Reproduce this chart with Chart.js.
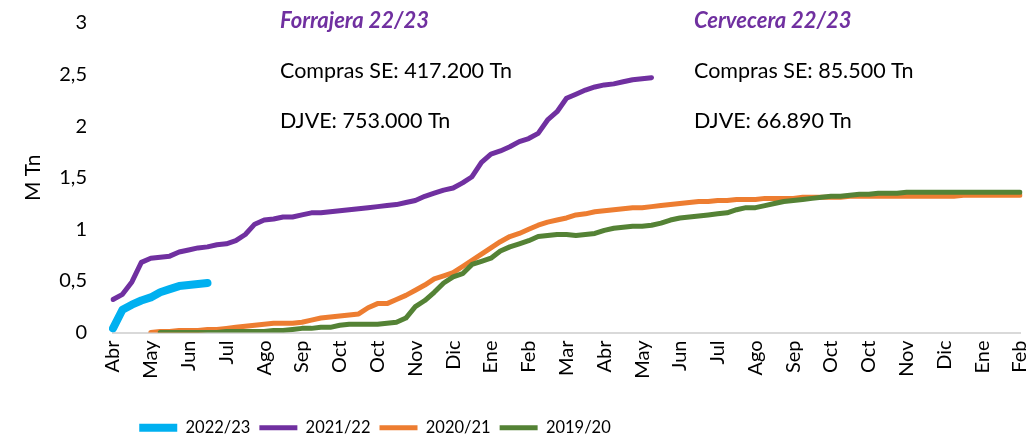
<!DOCTYPE html>
<html>
<head>
<meta charset="utf-8">
<script src="https://cdn.jsdelivr.net/npm/chart.js@4.4.1/dist/chart.umd.min.js"></script>
<style>
  html, body { margin: 0; padding: 0; background: #fff; }
  #wrap { width: 1035px; height: 439px; position: relative; }
</style>
</head>
<body>
<div id="wrap"><canvas id="compras-chart"></canvas></div>
<script>
// Month tick labels, one every 4 weeks
const tickLabels = ['Abr', 'May', 'Jun', 'Jul', 'Ago', 'Sep', 'Oct', 'Oct', 'Nov', 'Dic', 'Ene', 'Feb', 'Mar',
  'Abr', 'May', 'Jun', 'Jul', 'Ago', 'Sep', 'Oct', 'Oct', 'Nov', 'Dic', 'Ene', 'Feb'];
const weeksPerTick = 4;

const seriesNames = ['2022/23', '2021/22', '2020/21', '2019/20'];
const seriesColors = ['#00B0F0', '#7030A0', '#ED7D31', '#548235'];
const seriesStart = [0, 0, 4, 5]; // first week with data

// Accumulated purchases, M Tn, weekly
const campaign2022 = [0.04, 0.22, 0.27, 0.31, 0.34, 0.39, 0.42, 0.45, 0.46, 0.47, 0.48];

const campaign2021 = [0.32, 0.37, 0.49, 0.68, 0.72, 0.73, 0.74, 0.78, 0.80, 0.82,
  0.83, 0.85, 0.86, 0.89, 0.95, 1.05, 1.09, 1.10, 1.12, 1.12,
  1.14, 1.16, 1.16, 1.17, 1.18, 1.19, 1.20, 1.21, 1.22, 1.23,
  1.24, 1.26, 1.28, 1.32, 1.35, 1.38, 1.40, 1.45, 1.51, 1.65,
  1.73, 1.76, 1.80, 1.85, 1.88, 1.93, 2.06, 2.14, 2.27, 2.31,
  2.35, 2.38, 2.40, 2.41, 2.43, 2.45, 2.46, 2.47];

const campaign2020 = [0.00, 0.01, 0.01, 0.02, 0.02, 0.02, 0.03, 0.03, 0.04, 0.05,
  0.06, 0.07, 0.08, 0.09, 0.09, 0.09, 0.10, 0.12, 0.14, 0.15,
  0.16, 0.17, 0.18, 0.24, 0.28, 0.28, 0.32, 0.36, 0.41, 0.46,
  0.52, 0.55, 0.58, 0.64, 0.70, 0.76, 0.82, 0.88, 0.93, 0.96,
  1.00, 1.04, 1.07, 1.09, 1.11, 1.14, 1.15, 1.17, 1.18, 1.19,
  1.20, 1.21, 1.21, 1.22, 1.23, 1.24, 1.25, 1.26, 1.27, 1.27,
  1.28, 1.28, 1.29, 1.29, 1.29, 1.30, 1.30, 1.30, 1.30, 1.31,
  1.31, 1.31, 1.31, 1.31, 1.32, 1.32, 1.32, 1.32, 1.32, 1.32,
  1.32, 1.32, 1.32, 1.32, 1.32, 1.32, 1.33, 1.33, 1.33, 1.33,
  1.33, 1.33, 1.33];

const campaign2019 = [0.00, 0.00, 0.00, 0.00, 0.00, 0.00, 0.00, 0.01, 0.01, 0.01,
  0.01, 0.01, 0.02, 0.02, 0.03, 0.04, 0.04, 0.05, 0.05, 0.07,
  0.08, 0.08, 0.08, 0.08, 0.09, 0.10, 0.14, 0.25, 0.31, 0.39,
  0.48, 0.54, 0.57, 0.66, 0.69, 0.72, 0.79, 0.83, 0.86, 0.89,
  0.93, 0.94, 0.95, 0.95, 0.94, 0.95, 0.96, 0.99, 1.01, 1.02,
  1.03, 1.03, 1.04, 1.06, 1.09, 1.11, 1.12, 1.13, 1.14, 1.15,
  1.16, 1.19, 1.21, 1.21, 1.23, 1.25, 1.27, 1.28, 1.29, 1.30,
  1.31, 1.32, 1.32, 1.33, 1.34, 1.34, 1.35, 1.35, 1.35, 1.36,
  1.36, 1.36, 1.36, 1.36, 1.36, 1.36, 1.36, 1.36, 1.36, 1.36,
  1.36, 1.36];

// Text boxes drawn on the chart
const notes = [
  { x: 280, lines: ['Forrajera 22/23', 'Compras SE: 417.200 Tn', 'DJVE: 753.000 Tn'] },
  { x: 694, lines: ['Cervecera 22/23', 'Compras SE: 85.500 Tn', 'DJVE: 66.890 Tn'] }
];

const weekCount = (tickLabels.length - 1) * weeksPerTick + 1;
const weekLabels = [];
for (let i = 0; i < weekCount; i++) {
  weekLabels.push(tickLabels[Math.floor(i / weeksPerTick)]);
}

function padSeries(values, start) {
  const out = new Array(weekCount).fill(null);
  values.forEach((v, i) => { out[start + i] = v; });
  return out;
}

const allValues = [campaign2022, campaign2021, campaign2020, campaign2019];
const widths = [8, 5, 5, 5];

const datasets = seriesNames.map((name, k) => ({
  label: name,
  data: padSeries(allValues[k], seriesStart[k]),
  borderColor: seriesColors[k],
  backgroundColor: seriesColors[k],
  borderWidth: widths[k],
  borderCapStyle: 'round',
  borderJoinStyle: 'round',
  pointRadius: 0,
  pointHoverRadius: 0,
  tension: 0,
  spanGaps: false,
  order: seriesNames.length - 1 - k
}));

const fontFamily = 'Lato, "Open Sans", sans-serif';

const notesPlugin = {
  id: 'notes',
  afterDraw(chart) {
    const ctx = chart.ctx;
    ctx.save();
    ctx.textBaseline = 'middle';
    ctx.textAlign = 'left';
    const ys = [21, 71, 121];
    notes.forEach(n => {
      n.lines.forEach((line, i) => {
        if (i === 0) {
          ctx.font = 'italic bold 22px ' + fontFamily;
          ctx.fillStyle = '#7030A0';
        } else {
          ctx.font = '21.5px ' + fontFamily;
          ctx.fillStyle = '#000000';
        }
        ctx.fillText(line, n.x, ys[i]);
      });
    });
    ctx.restore();
  }
};

// legend sits left of centre in the original
const legendShift = {
  id: 'legendShift',
  afterLayout(chart) {
    const lg = chart.legend;
    if (lg) {
      lg.right = lg.left + 750;
      lg.width = 750;
    }
  }
};

const ctx = document.getElementById('compras-chart').getContext('2d');
const comprasChart = new Chart(ctx, {
  type: 'line',
  data: { labels: weekLabels, datasets: datasets },
  options: {
    responsive: true,
    maintainAspectRatio: false,
    animation: false,
    layout: { padding: { top: 23, right: 15, bottom: -7, left: 0 } },
    plugins: {
      tooltip: { enabled: false },
      legend: {
        position: 'bottom',
        labels: {
          usePointStyle: true,
          pointStyle: 'line',
          pointStyleWidth: 38,
          padding: 9,
          color: '#000',
          font: { family: fontFamily, size: 16.5 },
          sort: (a, b) => a.datasetIndex - b.datasetIndex
        }
      }
    },
    scales: {
      x: {
        grid: { display: false, drawTicks: false },
        border: { display: true, color: '#d9d9d9', width: 2 },
        ticks: {
          autoSkip: false,
          maxRotation: 90,
          minRotation: 90,
          padding: 8,
          color: '#000',
          font: { family: fontFamily, size: 20 },
          callback: function(val, idx) {
            return idx % weeksPerTick === 0 ? tickLabels[idx / weeksPerTick] : null;
          }
        },
        afterFit: function(scale) {
          scale.height = 78;
          scale.paddingLeft = 0;
          scale.paddingRight = 0;
        }
      },
      y: {
        min: 0,
        max: 3,
        grid: { display: false, drawTicks: false },
        border: { display: false },
        ticks: {
          stepSize: 0.5,
          padding: 26,
          color: '#000',
          font: { family: fontFamily, size: 20 },
          callback: v => String(v).replace('.', ',')
        },
        title: {
          display: true,
          text: 'M Tn',
          color: '#000',
          font: { family: fontFamily, size: 21 },
          padding: { top: 21, bottom: 0 }
        },
        afterFit: function(scale) {
          scale.width = 113;
          scale.paddingTop = 0;
          scale.paddingBottom = 0;
        }
      }
    }
  },
  plugins: [notesPlugin, legendShift]
});
</script>
</body>
</html>
